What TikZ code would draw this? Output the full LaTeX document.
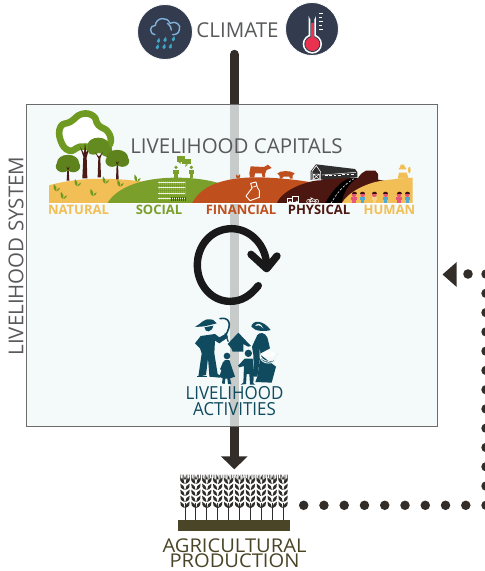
\documentclass[tikz,border=0pt]{standalone}
\usepackage{fontspec}
\setmainfont{Open Sans}
\newfontfamily\narrowface[FakeStretch=.94]{Open Sans}
\newfontfamily\wideface[FakeStretch=1.06]{Open Sans}
\usetikzlibrary{arrows.meta,calc}
\definecolor{txtgrey}{HTML}{58595B}
\definecolor{navy}{HTML}{333B4F}
\definecolor{boxfill}{rgb}{.945,.974,.974}
\definecolor{darkline}{HTML}{322D29}
\definecolor{gold}{HTML}{F1BF55}
\definecolor{leaf}{HTML}{7A9F2A}
\definecolor{rust}{HTML}{BF4F1C}
\definecolor{maroon}{HTML}{4C1710}
\definecolor{trunk}{HTML}{4A1A14}
\definecolor{teal}{HTML}{0F4A5F}
\definecolor{soil}{HTML}{4A4526}
\definecolor{wheat}{HTML}{2E2D29}
\definecolor{treeg}{HTML}{6F9A22}
\definecolor{cloudblue}{HTML}{7FB2DC}
\definecolor{dropblue}{HTML}{3FA6C4}
\definecolor{bulbred}{HTML}{E8324F}
\definecolor{skinpink}{HTML}{E8557A}
\definecolor{shirtblue}{HTML}{4FA9D6}
\tikzset{
  x=1pt,y=-1pt,
  lbl/.style={inner sep=0pt,text=txtgrey,font=\fontsize{#1}{#1}\selectfont},
  caplabel/.style={inner sep=0pt,font=\fontsize{13}{13}\selectfont\bfseries},
  dotline/.style={line width=9.5pt,line cap=round,color=darkline},
  flowline/.style={line width=9.5pt,color=darkline,line cap=round,-{Triangle[width=26pt,length=13pt]}},
  cyc/.style={line width=7.4pt,color=black!90,line cap=round,line join=round},
}
\newcommand{\sprout}[2]{\begin{scope}[shift={(#1,#2)}]
  \fill[treeg] (0,12) .. controls (-9,8) and (-9,0) .. (-7,-10) .. controls (0,-4) and (3,4) .. (0,12);
  \fill[treeg] (1,12) .. controls (8,10) and (10,6) .. (11,1) .. controls (5,2) and (1,6) .. (1,12);
\end{scope}}
\newcommand{\smalltree}[4]{% x, crown y, base y, radius (zoom units)
  \fill[trunk] (#1-4,#3) -- (#1-2,#2) -- (#1-9,#2-12) -- (#1,#2-4) -- (#1+8,#2-12) -- (#1+2,#2) -- (#1+4,#3) -- cycle;
  \fill[treeg!85!black] (#1,#2-#4*.55) ellipse ({#4*.95} and {#4*.7});
  \fill[treeg!85!black] (#1-#4*.45,#2-#4*.25) ellipse ({#4*.6} and {#4*.5});
  \fill[treeg!85!black] (#1+#4*.45,#2-#4*.25) ellipse ({#4*.6} and {#4*.5});
  \fill[trunk] (#1-1.2,#2+2) -- (#1-5,#2-9) -- (#1,#2-3) -- (#1+5,#2-9) -- (#1+1.2,#2+2) -- cycle;
}
\newcommand{\tinyperson}[3]{% x, head, body
  \fill[#3] (#1-8,292) rectangle (#1+8,300);
  \fill[#3] (#1-5,300) rectangle (#1+5,309);
  \fill[#2] (#1,284) circle (7);
  \fill[maroon!80!black] (#1-7.5,283) .. controls (#1-7.5,273) and (#1+7.5,273) .. (#1+7.5,283) -- cycle;
}
\newcommand{\wheatstalk}[1]{\begin{scope}[shift={(#1,0)}]
  \fill[wheat] (-1.5,190) rectangle (1.5,241);
  \foreach \yy in {125,143,161,179,197}{
    \fill[wheat] (-1,\yy+7) .. controls (-14,\yy+3) and (-15,\yy-5) .. (-14,\yy-12) .. controls (-5,\yy-8) and (-1,\yy-3) .. (-1,\yy+7);
    \fill[wheat] (1,\yy+7) .. controls (14,\yy+3) and (15,\yy-5) .. (14,\yy-12) .. controls (5,\yy-8) and (1,\yy-3) .. (1,\yy+7);
  }
  \fill[wheat] (-3,118) -- (0,106) -- (3,118) -- cycle;
  \foreach \dx in {-13,-8,-4,4,8,13}{\draw[wheat,line width=.45pt] (\dx,122) -- (\dx*1.05,104);}
\end{scope}}
\begin{document}
\begin{tikzpicture}
\useasboundingbox (0,0) rectangle (485,571);

% anchor nodes
\node[lbl=20.5,anchor=center] (climate) at (237.5,30) {CLIMATE};
\node[inner sep=0pt,minimum width=112pt,minimum height=62pt] (crops) at (234.5,500) {};
\coordinate (climatefoot) at (234.3,54.5);
\coordinate (dotstart) at (303.7,505.3);
\coordinate (dotturn) at (486,505.3);
\coordinate (dotup) at (486,274);
\coordinate (dotlast) at (468,274);

% flow arrow runs behind the translucent box
\draw[flowline,shorten >=-0.5pt] (climatefoot) -- (climatefoot |- crops.north);

% system box
\node[draw=black!58,line width=.9pt,fill=boxfill,fill opacity=.78,inner sep=0pt,minimum width=411pt,minimum height=322pt] (sysbox) at (231.5,265) {};
\node[lbl=20.5,rotate=90] (system) at (16,256) {LIVELIHOOD SYSTEM};
\node[lbl=20.5] (capitals) at (236.5,146) {LIVELIHOOD CAPITALS};

% rain icon
\node[circle,fill=navy,draw=white,line width=.8pt,inner sep=0pt,minimum size=55pt] (rain) at (165,32) {};
\begin{scope}[shift={(130,0)},scale=1/3]
  \draw[line width=1.4pt,color=cloudblue,line join=round,line cap=round] (75,104) .. controls (56,100) and (58,76) .. (76,76) .. controls (78,52) and (112,48) .. (120,70) .. controls (136,60) and (155,75) .. (148,90) .. controls (146,100) and (138,104) .. (128,104);
  \draw[line width=1.4pt,color=cloudblue,line cap=round] (112,70) .. controls (122,78) and (124,84) .. (124,90);
  \foreach \a/\b in {85/124,105/121,130/119,82/143,102/142,121/141}{
    \fill[dropblue] (\a,\b) circle (5);
    \fill[dropblue] (\a-4.6,\b-2) -- (\a+3,\b-11) -- (\a+4.9,\b-1) -- cycle;
  }
\end{scope}

% thermometer icon
\node[circle,fill=navy,draw=white,line width=.8pt,inner sep=0pt,minimum size=53pt] (thermo) at (312,29) {};
\begin{scope}[shift={(130,0)},scale=1/3]
  \fill[white] (536,115) -- (536,48) arc (180:0:11) -- (558,115) -- cycle;
  \fill[white] (547,132) circle (29);
  \fill[navy] (541,115) -- (541,48) arc (180:0:6) -- (553,115) -- cycle;
  \fill[navy] (547,132) circle (24);
  \fill[bulbred] (547,132) circle (21);
  \fill[bulbred] (543,115) rectangle (551,68);
  \foreach \y/\w in {40/12,52/8,63/12,75/8,87/12}{\fill[white] (567,\y) rectangle ++(\w,3);}
\end{scope}

% --- capitals strip
\begin{scope}[shift={(30,100)},scale=1/3]
  \fill[gold] (57,310) -- (57,256) .. controls (120,238) and (210,228) .. (340,245) -- (300,310) -- cycle;
  \smalltree{114}{208}{242}{35}
  \draw[treeg,line width=6.6pt,fill=white,line join=round] plot[smooth cycle,tension=.8] coordinates {(155,42) (190,48) (205,75) (235,97) (240,132) (212,150) (180,140) (150,140) (118,152) (92,122) (92,80) (122,65)};
  \fill[trunk] (157,235) -- (160,170) -- (150,140) -- (162,160) -- (165,128) -- (169,158) -- (181,132) -- (170,172) -- (172,235) -- cycle;
  \fill[treeg!90!black] (205,135) ellipse (32 and 22);
  \fill[treeg!90!black] (230,153) ellipse (17 and 18);
  \fill[treeg!90!black] (190,150) ellipse (18 and 14);
  \fill[trunk] (203,232) -- (205,175) -- (196,158) -- (207,170) -- (218,156) -- (211,175) -- (213,232) -- cycle;
  \smalltree{262}{192}{238}{34}
  \sprout{79}{262}\sprout{100}{285}\sprout{142}{247}\sprout{189}{276}\sprout{226}{239}\sprout{270}{248}\sprout{321}{233}
  \fill[leaf] (232,310) .. controls (255,270) and (320,233) .. (440,233) .. controls (520,233) and (590,250) .. (620,275) -- (620,310) -- cycle;
  \foreach \px in {438,484}{
    \fill[leaf] (\px,202) circle (5.5);
    \fill[leaf] (\px-8,209) rectangle (\px+8,222);
    \fill[leaf] (\px-5,222) rectangle (\px+5,235);
  }
  \fill[leaf] (440,168) rectangle (466,186);\fill[leaf] (445,186) -- (452,192) -- (452,186) -- cycle;
  \fill[leaf] (455,176) rectangle (483,193);\fill[leaf] (466,193) -- (466,201) -- (474,193) -- cycle;
  \foreach \row in {248,263,279,295}{
    \foreach \cx in {386,392,...,464}{\fill[black!38] (\cx,\row-5) rectangle ++(4,11);}
    \fill[white,opacity=.85] (384,\row-1) rectangle (466,\row+1);
  }
  \foreach \cx in {422,428,...,464}{\fill[black!70] (\cx,291) rectangle ++(4,11);}
\end{scope}
\begin{scope}[shift={(220,100)},scale=1/3]
  \fill[rust] (-84,310) .. controls (-60,265) and (-10,235) .. (100,232) .. controls (170,232) and (240,240) .. (290,250) -- (290,310) -- cycle;
  \fill[rust] (48,224) .. controls (46,234) and (54,238) .. (60,232) -- (60,222) -- (55,228) -- cycle;
  \fill[rust] (92,199) -- (132,201) -- (144,194) -- (155,204) -- (140,210) -- (135,222) -- (135,232) -- (128,232) -- (125,220) -- (105,220) -- (103,232) -- (90,232) -- (88,220) -- cycle;
  \fill[rust] (172,220) .. controls (180,212) and (210,210) .. (224,220) -- (218,226) -- (218,236) -- (210,236) -- (208,230) -- (190,230) -- (186,236) -- (180,236) -- (178,226) -- cycle;
  \draw[white,line width=.9pt,line join=round] (78,288) -- (90,272) -- (96,265) -- (92,250) -- (108,246) -- (112,262) -- (118,272) -- (118,292) -- (90,302) -- cycle;
  \draw[white,line width=.7pt] (96,262) -- (112,257);
  \fill[maroon] (170,310) .. controls (190,265) and (270,235) .. (360,234) .. controls (420,232) and (470,236) .. (500,244) -- (470,310) -- cycle;
  \fill[black] (315,310) .. controls (335,275) and (360,245) .. (385,236) -- (412,234) .. controls (385,250) and (370,280) .. (365,310) -- cycle;
  \draw[white,line width=.5pt,dash pattern=on 2.4pt off 1.6pt] (333,310) .. controls (350,280) and (370,255) .. (402,236);
  \draw[white,line width=.6pt,fill=maroon] (203,296) rectangle (224,306);
  \draw[white,line width=.6pt,fill=maroon] (216,290) rectangle (236,306);
  \foreach \wx in {210,230}{\draw[white,line width=.5pt] (\wx,306) circle (3);}
  \draw[white,line width=.5pt] (266,304) circle (6);\draw[white,line width=.5pt] (290,304) circle (6);
  \draw[white,line width=.5pt] (266,304) -- (276,294) -- (290,304) -- (274,304) -- (266,304) (272,292) -- (278,304);
  \fill[black!82] (272,214) -- (288,193) -- (405,207) -- (412,216) -- (412,232) -- (312,238) -- (272,240) -- cycle;
  \draw[white,line width=.6pt] (276,214) -- (289,197) -- (302,216) -- (302,240) (276,214) -- (276,240) -- (302,240);
  \draw[white,line width=.5pt] (280,222) rectangle (298,238) (280,222) -- (298,238) (298,222) -- (280,238);
  \draw[white,line width=.5pt] (306,225) -- (408,217);
  \foreach \wx in {315,328,341,354,367,380,393}{\fill[white] (\wx,226-\wx*.045+14) rectangle ++(8,2.6);}
  \fill[maroon] (415,232) -- (425,220) -- (438,212) -- (466,212) -- (474,222) -- (474,240) -- (420,240) -- cycle;
  \fill[gold] (365,310) .. controls (385,275) and (440,250) .. (480,243) .. controls (510,238) and (550,235) .. (578,233) -- (578,310) -- cycle;
  \fill[gold] (535,208) -- (560,208) -- (555,201) -- (552,194) -- (542,194) -- (540,202) -- cycle;
  \fill[gold] (533,236) -- (537,218) -- (560,218) -- (566,236) -- cycle;
  \fill[gold] (568,210) ellipse (4 and 10);
  \tinyperson{402}{skinpink}{skinpink}
  \tinyperson{428}{skinpink}{shirtblue}
  \tinyperson{463}{skinpink}{gold!70!white}
  \tinyperson{497}{skinpink}{shirtblue}
  \tinyperson{537}{skinpink}{skinpink}
  \tinyperson{562}{skinpink}{shirtblue}
\end{scope}
\draw[white,line width=.5pt] (49,203) -- (413,203);
\node[caplabel,text=gold] (natural) at (78.5,210) {NATURAL};
\node[caplabel,text=leaf] (social) at (159,210) {SOCIAL};
\node[caplabel,text=rust] (financial) at (241,210) {FINANCIAL};
\node[caplabel,text=maroon] (physical) at (319,210) {PHYSICAL};
\node[caplabel,text=gold] (human) at (389.5,210) {HUMAN};

% cycle arrow
\begin{scope}[shift={(170,220)},scale=1/3]
  \draw[cyc] (265,197) .. controls (240,228) and (215,244) .. (180,244) .. controls (125,244) and (82,195) .. (82,135) .. controls (82,75) and (125,26) .. (185,26) .. controls (240,26) and (290,75) .. (290,140);
  \draw[cyc] (243,103) -- (290,146) -- (321,108);
\end{scope}

% family
\begin{scope}[shift={(170,220)},scale=1/3]
  \begin{scope}[teal]
  \fill (74,320) .. controls (95,312) and (98,296) .. (120,298) .. controls (132,298) and (135,305) .. (140,310) .. controls (120,315) and (100,322) .. (74,320) -- cycle;
  \fill (103,322) .. controls (106,340) and (125,338) .. (130,317) -- cycle;
  \fill (92,348) -- (135,342) -- (148,352) -- (170,340) -- (174,352) -- (148,370) -- (135,362) -- (133,400) -- (143,462) -- (147,465) -- (118,465) -- (114,415) -- (108,465) -- (85,470) -- (95,400) -- (90,385) -- (75,370) -- cycle;
  \fill (82,468) rectangle (112,472);\fill (118,460) -- (150,465) -- (150,473) -- (118,470) -- cycle;
  \draw[line width=1.6pt,line cap=round] (150,296) .. controls (175,290) and (190,310) .. (165,348);
  \draw[line width=1.2pt] (165,340) -- (175,365);
  \fill (173,372) -- (205,338) -- (243,378) -- (234,380) -- (220,372) -- (220,395) -- (188,395) -- (184,385) -- cycle;
  \fill (171,408) circle (10);
  \fill (164,420) -- (178,420) -- (195,470) -- (180,475) -- (184,492) -- (174,492) -- (172,476) -- (166,476) -- (164,492) -- (156,490) -- (158,475) -- (148,470) -- cycle;
  \fill (150,448) -- (160,424) -- (164,430) -- (156,450) -- cycle;
  \fill (235,400) circle (11);
  \fill (204,437) -- (224,416) -- (248,416) -- (252,455) -- (250,490) -- (256,494) -- (240,494) -- (238,462) -- (230,462) -- (228,492) -- (212,494) -- (220,488) -- (222,438) -- (208,442) -- cycle;
  \fill (244,320) .. controls (248,298) and (280,300) .. (302,330) .. controls (285,335) and (255,335) .. (244,320) -- cycle;
  \fill (262,345) .. controls (270,335) and (285,338) .. (292,352) -- (300,385) -- (272,400) -- (262,470) -- (252,470) -- (250,405) -- (246,380) -- cycle;
  \fill (262,470) -- (272,405) -- (318,440) -- (305,488) -- (256,486) -- cycle;
  \fill[boxfill] (255,318) .. controls (262,308) and (272,308) .. (280,325) .. controls (270,315) and (262,313) .. (255,318) -- cycle;
  \draw[boxfill,line width=.9pt,fill=teal] (270,400) arc (180:0:26 and 24) -- (318,412) .. controls (318,435) and (275,435) .. (270,412) -- cycle;
  \fill[white] (274,402) .. controls (285,392) and (308,392) .. (318,402) .. controls (305,415) and (285,415) .. (274,402) -- cycle;
  \end{scope}
\end{scope}
\node[inner sep=0pt,align=center,text=teal,font=\narrowface\fontsize{18}{15.5}\selectfont] (activities) at (234.5,401) {LIVELIHOOD\\ACTIVITIES};

% wheat
\begin{scope}[shift={(150,440)},scale=1/3]
  \foreach \sx in {105,137.7,...,400}{\wheatstalk{\sx}}
  \fill[soil] (83,241) rectangle (421,274);
\end{scope}
\node[inner sep=0pt,align=center,text=soil,font=\wideface\fontsize{19}{15.5}\selectfont] (agri) at (234.5,553) {AGRICULTURAL\\PRODUCTION};

% dotted feedback
\draw[dotline,dash pattern=on 0pt off 20.26pt] (dotstart) -- (dotturn);
\draw[dotline,dash pattern=on 0pt off 19.27pt] (dotturn) -- (dotup);
\fill[darkline] (dotlast) circle (4.8);
\fill[darkline] (442.5,274.5) -- (456.7,262) -- (456.7,287) -- cycle;
\end{tikzpicture}
\end{document}
